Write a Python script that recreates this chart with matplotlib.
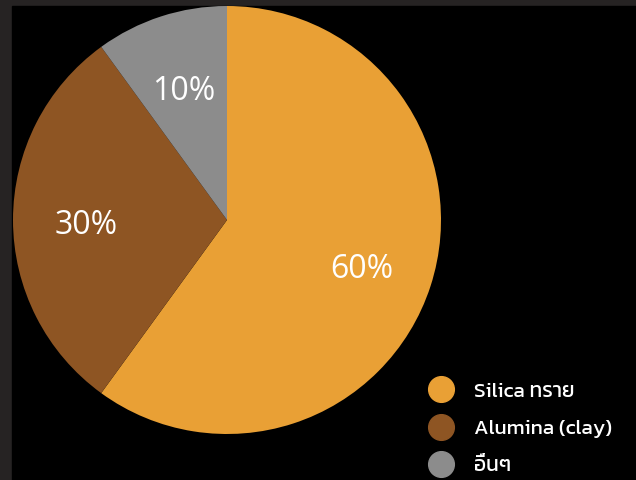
import matplotlib.pyplot as plt
from matplotlib.lines import Line2D
from matplotlib.patches import Rectangle

# data
labels = ['Silica ทราย', 'Alumina (clay)', 'อื่นๆ']
shares = [60, 30, 10]
colors = ['#E9A035', '#8E5523', '#8C8C8C']

plt.rcParams['font.family'] = ['Open Sans', 'Kanit', 'DejaVu Sans']

fig = plt.figure(figsize=(6.36, 4.8), dpi=100, facecolor='#262323')
ax = fig.add_axes([0, 0, 1, 1])
ax.set_facecolor('none')

# black panel inside the thin grey frame
ax.add_patch(Rectangle((12, 0), 624, 474, color='black', zorder=0))

wedges, texts, autotexts = ax.pie(shares, colors=colors, startangle=90, counterclock=False,
                                  center=(227, 260), radius=214, autopct='%d%%',
                                  pctdistance=0.66, wedgeprops=dict(linewidth=0),
                                  textprops=dict(color='white', fontsize=23))
# nudge the percent labels down a little
for t in autotexts:
    x, y = t.get_position()
    t.set_position((x, y - 6))

ax.set_xlim(0, 636)
ax.set_ylim(0, 480)
ax.set_aspect('equal')
ax.axis('off')

handles = [Line2D([], [], marker='o', linestyle='none', markersize=18.5,
                  markerfacecolor=c, markeredgecolor=c) for c in colors]
leg = ax.legend(handles, labels, loc='lower left', bbox_to_anchor=(0.644, -0.029),
                frameon=False, prop=dict(family=['Kanit'], size=15),
                labelcolor='white', handletextpad=0.95,
                labelspacing=0.9, handlelength=1.25)

fig.savefig('out.png', dpi=100, facecolor=fig.get_facecolor())
